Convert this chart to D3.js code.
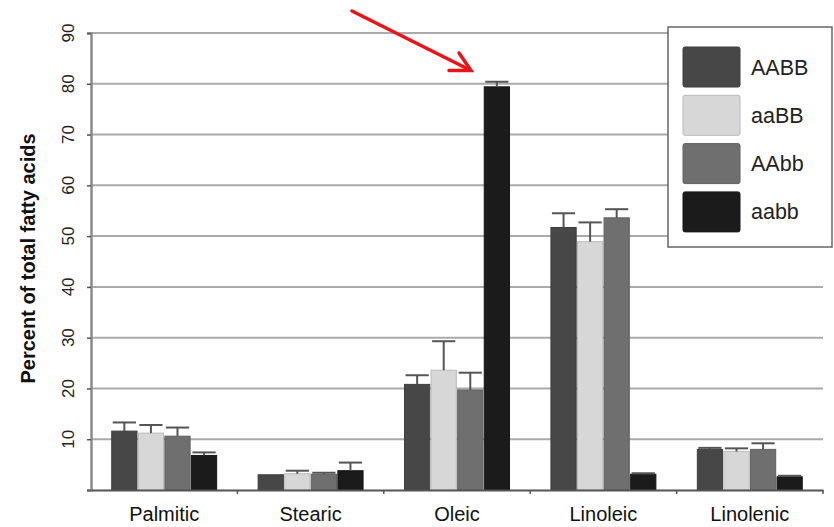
<!DOCTYPE html>
<html>
<head>
<meta charset="utf-8">
<script src="https://cdn.jsdelivr.net/npm/d3@7"></script>
<style>
  body { margin: 0; background: #fff; }
  svg { display: block; font-family: Arial, "Liberation Sans", sans-serif; }
</style>
</head>
<body>
<svg id="chart-svg"></svg>
<script>
const categories = ["Palmitic", "Stearic", "Oleic", "Linoleic", "Linolenic"];
const series = ["AABB", "aaBB", "AAbb", "aabb"];
const yTicks = [10, 20, 30, 40, 50, 60, 70, 80, 90];

const valuesAABB = [11.6, 3.0, 20.8, 51.7, 8.0];
const valuesaaBB = [11.2, 3.2, 23.6, 48.9, 7.6];
const valuesAAbb = [10.6, 3.1, 19.7, 53.6, 8.0];
const valuesaabb = [6.8, 3.8, 79.4, 3.1, 2.6];

const errAABB = [1.7, 0, 1.8, 2.8, 0.3];
const erraaBB = [1.6, 0.6, 5.7, 3.8, 0.6];
const errAAbb = [1.7, 0.3, 3.4, 1.7, 1.2];
const erraabb = [0.6, 1.6, 1.0, 0.2, 0.2];

const seriesColors = {
  AABB: "#474747",
  aaBB: "#d7d7d7",
  AAbb: "#6f6f6f",
  aabb: "#1b1b1b",
};

const valuesBySeries = { AABB: valuesAABB, aaBB: valuesaaBB, AAbb: valuesAAbb, aabb: valuesaabb };
const errBySeries = { AABB: errAABB, aaBB: erraaBB, AAbb: errAAbb, aabb: erraabb };

const svgWidth = 834;
const svgHeight = 527;
const m_left = 91;
const m_right = 11;
const m_top = 33;
const m_bottom = 37;
const width = svgWidth - m_left - m_right;
const height = svgHeight - m_top - m_bottom;

const svg = d3.select("#chart-svg").attr("width", svgWidth).attr("height", svgHeight);
const chart = svg.append("g").attr("transform", `translate(${m_left}, ${m_top})`);

const x0 = d3.scaleBand().domain(categories).range([0, width]).padding(0);
const x1 = d3
  .scaleBand()
  .domain(series)
  .range([0, x0.bandwidth()])
  .paddingOuter(0.78)
  .paddingInner(0.05);
const yScale = d3.scaleLinear().domain([0, 90]).range([height, 0]);

// gridlines
chart
  .append("g")
  .selectAll("line")
  .data(yTicks)
  .join("line")
  .attr("x1", 0)
  .attr("x2", width)
  .attr("y1", (d) => yScale(d))
  .attr("y2", (d) => yScale(d))
  .attr("stroke", "#aaaaaa")
  .attr("stroke-width", 2);

// left axis
const yAxis = chart
  .append("g")
  .call(d3.axisLeft(yScale).tickValues([0].concat(yTicks)).tickSize(4).tickFormat(""));
yAxis.select(".domain").attr("stroke", "#8a8a8a").attr("stroke-width", 2.5);
yAxis.selectAll(".tick line").attr("stroke", "#555").attr("stroke-width", 1.5);

chart
  .append("g")
  .selectAll("text")
  .data(yTicks)
  .join("text")
  .attr("transform", (d) => `translate(-23, ${yScale(d)}) rotate(-90)`)
  .attr("text-anchor", "middle")
  .attr("dy", "0.35em")
  .attr("font-size", 17)
  .attr("fill", "#222")
  .text((d) => d);

chart
  .append("text")
  .attr("transform", `translate(-63, ${height / 2 - 3}) rotate(-90)`)
  .attr("text-anchor", "middle")
  .attr("dy", "0.35em")
  .attr("font-size", 20)
  .attr("font-weight", "bold")
  .attr("fill", "#111")
  .text("Percent of total fatty acids");

// bars
const groups = chart
  .selectAll(".group")
  .data(categories)
  .join("g")
  .attr("class", "group")
  .attr("transform", (d) => `translate(${x0(d)}, 0)`);

groups
  .selectAll("rect")
  .data((c, i) => series.map((s) => ({ s, value: valuesBySeries[s][i], err: errBySeries[s][i] })))
  .join("rect")
  .attr("x", (d) => x1(d.s))
  .attr("y", (d) => yScale(d.value))
  .attr("width", x1.bandwidth())
  .attr("height", (d) => height - yScale(d.value))
  .attr("fill", (d) => seriesColors[d.s])
  .attr("stroke", (d) => d3.color(seriesColors[d.s]).darker(0.4))
  .attr("stroke-width", 1);

// error bars (upper only)
const errs = groups
  .selectAll(".err")
  .data((c, i) =>
    series
      .map((s) => ({ s, value: valuesBySeries[s][i], err: errBySeries[s][i] }))
      .filter((d) => d.err > 0)
  )
  .join("g")
  .attr("class", "err")
  .attr("stroke", "#555")
  .attr("stroke-width", 2);

errs
  .append("line")
  .attr("x1", (d) => x1(d.s) + x1.bandwidth() / 2)
  .attr("x2", (d) => x1(d.s) + x1.bandwidth() / 2)
  .attr("y1", (d) => yScale(d.value))
  .attr("y2", (d) => yScale(d.value + d.err));
errs
  .append("line")
  .attr("x1", (d) => x1(d.s) + 1)
  .attr("x2", (d) => x1(d.s) + x1.bandwidth() - 1)
  .attr("y1", (d) => yScale(d.value + d.err))
  .attr("y2", (d) => yScale(d.value + d.err));

// bottom axis
const xAxis = chart
  .append("g")
  .attr("transform", `translate(0, ${height})`)
  .call(d3.axisBottom(x0).tickSize(0).tickPadding(17));
xAxis.select(".domain").attr("stroke", "#555").attr("stroke-width", 2);
xAxis.selectAll("text").attr("font-size", 20).attr("fill", "#111").attr("font-family", "Arial, 'Liberation Sans', sans-serif");

chart
  .append("g")
  .selectAll("line")
  .data(categories.slice(1).concat(["end"]))
  .join("line")
  .attr("x1", (d) => (d === "end" ? width : x0(d)))
  .attr("x2", (d) => (d === "end" ? width : x0(d)))
  .attr("y1", height)
  .attr("y2", height + 4)
  .attr("stroke", "#555")
  .attr("stroke-width", 1.5);

// legend
const legend = svg.append("g").attr("transform", "translate(668, 27)");
legend
  .append("rect")
  .attr("width", 164)
  .attr("height", 220)
  .attr("fill", "#fff")
  .attr("stroke", "#666")
  .attr("stroke-width", 1.5);
const items = legend
  .selectAll(".item")
  .data(series)
  .join("g")
  .attr("class", "item")
  .attr("transform", (d, i) => `translate(15, ${20 + i * 48.3})`);
items
  .append("rect")
  .attr("width", 57)
  .attr("height", 40)
  .attr("rx", 2)
  .attr("fill", (d) => seriesColors[d])
  .attr("stroke", (d) => d3.color(seriesColors[d]).darker(0.4));
items
  .append("text")
  .attr("x", 68)
  .attr("y", 20)
  .attr("dy", "0.35em")
  .attr("font-size", 21.5)
  .attr("fill", "#222")
  .text((d) => d);

// red arrow annotation
const arrow = svg.append("g").attr("stroke", "#e8141a").attr("stroke-width", 3.5).attr("fill", "none").attr("stroke-linecap", "round");
arrow.append("line").attr("x1", 352).attr("y1", 11).attr("x2", 470).attr("y2", 70);
arrow.append("polyline").attr("points", "449,70.5 471,70.5 459,53");
</script>
</body>
</html>
